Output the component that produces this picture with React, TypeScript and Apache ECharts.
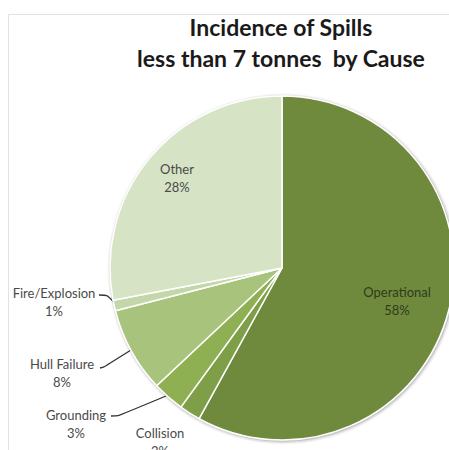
import React, { useEffect, useRef } from "react";
import * as echarts from "echarts";

const titleLines = ["Incidence of Spills", "less than 7 tonnes  by Cause"];
const causes = ["Operational", "Collision", "Grounding", "Hull Failure", "Fire/Explosion", "Other"];
const shares = [58, 2, 3, 8, 1, 28];
const colors = ["#6F8A3D", "#7F9E48", "#8FB052", "#A8C47C", "#C4D7AA", "#D7E3C5"];

// label anchor positions (px) and leader line points, by data index
const labelPos: Record<number, { x: number; y: number; line?: number[][] }> = {
  0: { x: 397, y: 301 },
  1: { x: 160, y: 442 },
  2: { x: 76, y: 424, line: [[166, 396], [118, 416], [111, 416]] },
  3: { x: 62, y: 373, line: [[131, 350], [104, 367], [100, 368]] },
  4: { x: 54, y: 302, line: [[116, 304], [107, 295], [99, 295]] },
  5: { x: 177, y: 178 },
};

export default function App() {
  const ref = useRef<HTMLDivElement>(null);
  useEffect(() => {
    if (!ref.current) return;
    const chart = echarts.init(ref.current, undefined, { renderer: "svg" });
    const cx = 282;
    const cy = 268;
    const r = 172;
    chart.setOption({
      animation: false,
      backgroundColor: "#ffffff",
      title: {
        text: titleLines.join("\n"),
        left: 276,
        top: 6,
        textAlign: "center",
        textStyle: {
          fontFamily: "Lato, 'Open Sans', sans-serif",
          fontWeight: "bold",
          fontSize: 23,
          lineHeight: 31,
          color: "#1a1a1a",
        },
      },
      graphic: [
        {
          type: "rect",
          shape: { x: 8.5, y: 14.5, width: 600, height: 600 },
          style: { fill: "none", stroke: "#e2e2e2", lineWidth: 1 },
          silent: true,
          z: 0,
        },
      ],
      series: [
        {
          type: "pie",
          silent: true,
          center: [cx + 1, cy + 1],
          radius: r + 1,
          startAngle: 90,
          label: { show: false },
          labelLine: { show: false },
          itemStyle: {
            color: "#c8c8c8",
            shadowBlur: 3,
            shadowColor: "rgba(0,0,0,0.35)",
          },
          data: [{ value: 1, name: "" }],
          z: 1,
        },
        {
          type: "pie",
          center: [cx, cy],
          radius: r,
          startAngle: 90,
          clockwise: true,
          avoidLabelOverlap: false,
          z: 2,
          itemStyle: { borderColor: "#ffffff", borderWidth: 1.5 },
          label: {
            show: true,
            position: "outside",
            formatter: "{b}\n{d}%",
            fontFamily: "Lato, 'Open Sans', sans-serif",
            fontSize: 13,
            lineHeight: 18,
            color: "#4a4a4a",
            align: "center",
            overflow: "none",
          },
          labelLine: {
            show: true,
            lineStyle: { color: "#333333", width: 1.3 },
            smooth: 0.2,
          },
          labelLayout: (params: any) => {
            const p = labelPos[params.dataIndex];
            const out: any = {
              x: p.x,
              y: p.y,
              align: "center",
              verticalAlign: "middle",
            };
            if (p.line) out.labelLinePoints = p.line;
            return out;
          },
          data: causes.map((name, i) => ({
            name,
            value: shares[i],
            itemStyle: { color: colors[i] },
            label:
              i === 0
                ? { position: "inside", color: "#2f3a1c" }
                : labelPos[i].line
                ? undefined
                : { position: "inside" },
            labelLine: { show: !!labelPos[i].line },
          })),
        },
      ],
    });
    return () => chart.dispose();
  }, []);
  return (
    <div
      ref={ref}
      style={{ position: "fixed", left: 0, top: 0, width: 449, height: 450 }}
    />
  );
}
